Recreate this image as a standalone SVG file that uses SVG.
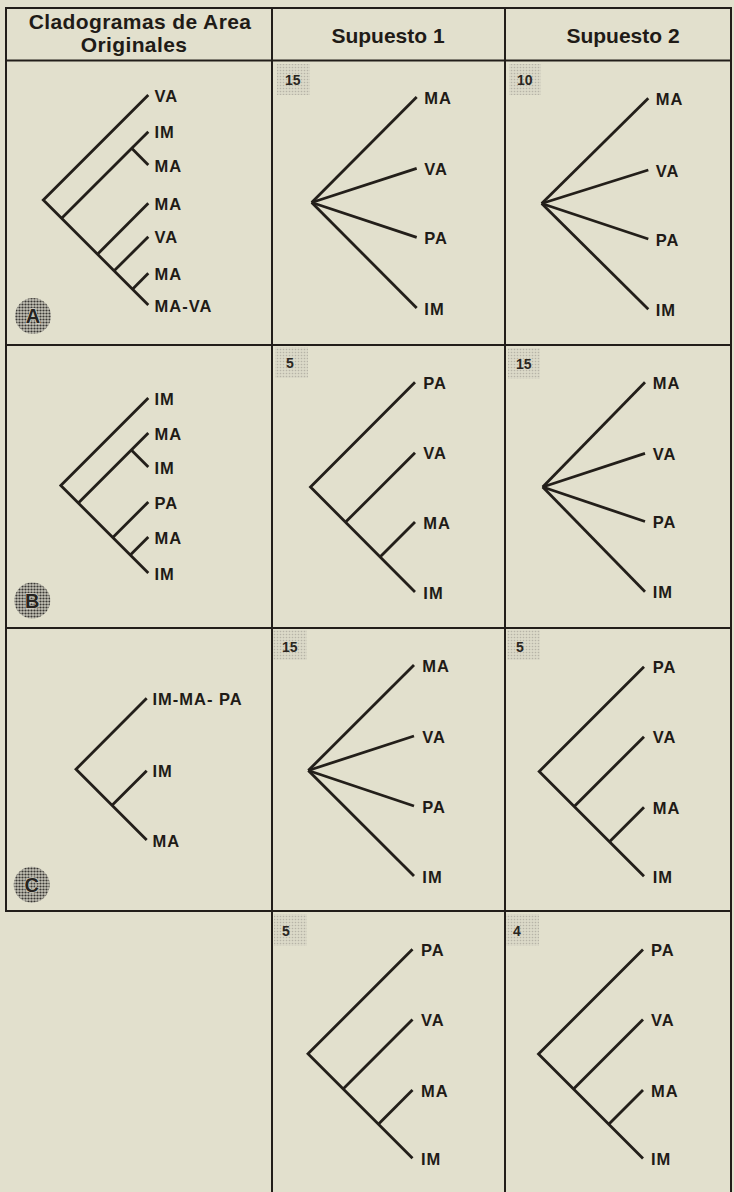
<svg xmlns="http://www.w3.org/2000/svg" width="734" height="1192" viewBox="0 0 734 1192">
<defs>
<pattern id="dots" width="3" height="3" patternUnits="userSpaceOnUse">
<rect width="3" height="3" fill="#d8d6c6"/>
<circle cx="1.5" cy="1.5" r="0.8" fill="#a3a096"/>
</pattern>
<pattern id="dark" width="3" height="3" patternUnits="userSpaceOnUse">
<rect width="3" height="3" fill="#c4c2b6"/>
<circle cx="1.5" cy="1.5" r="1.1" fill="#3a3834"/>
</pattern>
</defs>
<style>
.grid line{stroke:#221e1a;stroke-width:2}
.br line,.br polyline{stroke:#231f1a;stroke-width:2.8;fill:none;stroke-linecap:butt;stroke-linejoin:miter}
.lab{font-family:"Liberation Sans",Arial,sans-serif;font-weight:bold;font-size:16.5px;letter-spacing:1px;fill:#1f1b17}
.hd{font-family:"Liberation Sans",Arial,sans-serif;font-weight:bold;font-size:21px;fill:#1f1b17;text-anchor:middle}
.num{font-family:"Liberation Sans",Arial,sans-serif;font-weight:bold;font-size:14px;fill:#2a2621}
.badge{fill:url(#dots);opacity:0.7}
.circ{fill:url(#dark)}
.let{font-family:"Liberation Sans",Arial,sans-serif;font-weight:bold;font-size:20px;fill:#262320;stroke:#cfcdc1;stroke-width:1.5;paint-order:stroke;text-anchor:middle}
</style>
<rect width="734" height="1192" fill="#e2e0cd"/>

<g id="grid" class="grid">
<line x1="6" y1="8" x2="731" y2="8"/>
<line x1="6" y1="60.5" x2="731" y2="60.5"/>
<line x1="6" y1="345" x2="731" y2="345"/>
<line x1="6" y1="628" x2="731" y2="628"/>
<line x1="6" y1="911" x2="731" y2="911"/>
<line x1="6" y1="7" x2="6" y2="912"/>
<line x1="272" y1="7" x2="272" y2="1192"/>
<line x1="505" y1="7" x2="505" y2="1192"/>
<line x1="731" y1="7" x2="731" y2="1192"/>
</g>

<g id="headers">
<text class="hd" x="140" y="29" letter-spacing="0.4">Cladogramas de Area</text>
<text class="hd" x="134" y="52" letter-spacing="0.4">Originales</text>
<text class="hd" x="388" y="43">Supuesto 1</text>
<text class="hd" x="623" y="43">Supuesto 2</text>
</g>

<g id="connectors" class="br">
<!-- A original -->
<polyline points="148.3,95 43.3,200 148.3,305"/>
<line x1="61.65" y1="218.35" x2="148.3" y2="131.7"/>
<line x1="131.7" y1="148.3" x2="148.3" y2="165"/>
<line x1="97.45" y1="254.15" x2="148.3" y2="203.3"/>
<line x1="114.15" y1="270.85" x2="148.3" y2="236.7"/>
<line x1="132.45" y1="289.15" x2="148.3" y2="273.3"/>
<!-- A S1 -->
<line x1="311.7" y1="202.5" x2="416.7" y2="97"/>
<line x1="311.7" y1="202.5" x2="416.7" y2="168.3"/>
<line x1="311.7" y1="202.5" x2="416.7" y2="237.3"/>
<line x1="311.7" y1="202.5" x2="416.7" y2="308"/>
<!-- A S2 -->
<line x1="541.7" y1="203.5" x2="648.3" y2="98.3"/>
<line x1="541.7" y1="203.5" x2="648.3" y2="170"/>
<line x1="541.7" y1="203.5" x2="648.3" y2="239"/>
<line x1="541.7" y1="203.5" x2="648.3" y2="309.3"/>
<!-- B original -->
<polyline points="148.3,398 60.8,485.5 148.3,573"/>
<line x1="78.3" y1="503" x2="148.3" y2="433"/>
<line x1="131.3" y1="450" x2="148.3" y2="467"/>
<line x1="112.8" y1="537.5" x2="148.3" y2="502"/>
<line x1="130.3" y1="555" x2="148.3" y2="537"/>
<!-- B S1 -->
<polyline points="415,382.3 310.5,487 415,592"/>
<line x1="345.6" y1="522.1" x2="415" y2="452.7"/>
<line x1="380.25" y1="556.75" x2="415" y2="522"/>
<!-- B S2 -->
<line x1="542.7" y1="487" x2="645" y2="382.3"/>
<line x1="542.7" y1="487" x2="645" y2="453.3"/>
<line x1="542.7" y1="487" x2="645" y2="521.5"/>
<line x1="542.7" y1="487" x2="645" y2="591.7"/>
<!-- C original -->
<polyline points="146.7,698.3 76,769.2 146.7,840"/>
<line x1="112.1" y1="805.3" x2="146.7" y2="770.7"/>
<!-- C S1 -->
<line x1="308.3" y1="770.5" x2="414" y2="665"/>
<line x1="308.3" y1="770.5" x2="414" y2="736"/>
<line x1="308.3" y1="770.5" x2="414" y2="806"/>
<line x1="308.3" y1="770.5" x2="414" y2="876"/>
<!-- C S2 -->
<polyline points="644,666.7 539.2,771.5 644,876.3"/>
<line x1="574.2" y1="806.5" x2="644" y2="736.7"/>
<line x1="609.5" y1="841.8" x2="644" y2="807.3"/>
<!-- D S1 -->
<polyline points="412.5,949.3 308,1053.8 412.5,1158.3"/>
<line x1="343.1" y1="1088.9" x2="412.5" y2="1019.5"/>
<line x1="378.35" y1="1124.15" x2="412.5" y2="1090"/>
<!-- D S2 -->
<polyline points="643,949.5 538.5,1054 643,1158.5"/>
<line x1="573.5" y1="1089" x2="643" y2="1019.5"/>
<line x1="608.75" y1="1124.25" x2="643" y2="1090"/>
</g>

<g id="cell-A-original">
<text class="lab" x="154.5" y="101.5">VA</text>
<text class="lab" x="154.5" y="138.2">IM</text>
<text class="lab" x="154.5" y="171.5">MA</text>
<text class="lab" x="154.5" y="209.8">MA</text>
<text class="lab" x="154.5" y="243.2">VA</text>
<text class="lab" x="154.5" y="279.8">MA</text>
<text class="lab" x="154.5" y="311.5">MA-VA</text>
<circle class="circ" cx="33" cy="316" r="18"/>
<text class="let" x="33" y="323">A</text>
</g>

<g id="cell-A-s1">
<rect class="badge" x="277" y="64" width="33" height="31"/>
<text class="num" x="285" y="85">15</text>
<text class="lab" x="424.3" y="103.5">MA</text>
<text class="lab" x="424.3" y="174.8">VA</text>
<text class="lab" x="424.3" y="243.8">PA</text>
<text class="lab" x="424.3" y="314.5">IM</text>
</g>

<g id="cell-A-s2">
<rect class="badge" x="509" y="64" width="32" height="31"/>
<text class="num" x="517" y="85">10</text>
<text class="lab" x="655.7" y="104.8">MA</text>
<text class="lab" x="655.7" y="176.5">VA</text>
<text class="lab" x="655.7" y="245.5">PA</text>
<text class="lab" x="655.7" y="315.8">IM</text>
</g>

<g id="cell-B-original">
<text class="lab" x="154.5" y="404.5">IM</text>
<text class="lab" x="154.5" y="439.5">MA</text>
<text class="lab" x="154.5" y="473.5">IM</text>
<text class="lab" x="154.5" y="508.5">PA</text>
<text class="lab" x="154.5" y="543.5">MA</text>
<text class="lab" x="154.5" y="579.5">IM</text>
<circle class="circ" cx="32.3" cy="600.5" r="18"/>
<text class="let" x="32.3" y="607.5">B</text>
</g>

<g id="cell-B-s1">
<rect class="badge" x="275" y="347" width="33" height="31"/>
<text class="num" x="286" y="368">5</text>
<text class="lab" x="423.3" y="388.8">PA</text>
<text class="lab" x="423.3" y="459.2">VA</text>
<text class="lab" x="423.3" y="528.5">MA</text>
<text class="lab" x="423.3" y="598.5">IM</text>
</g>

<g id="cell-B-s2">
<rect class="badge" x="508" y="348" width="32" height="31"/>
<text class="num" x="516" y="369">15</text>
<text class="lab" x="652.7" y="388.8">MA</text>
<text class="lab" x="652.7" y="459.8">VA</text>
<text class="lab" x="652.7" y="528">PA</text>
<text class="lab" x="652.7" y="598.2">IM</text>
</g>

<g id="cell-C-original">
<text class="lab" x="152.5" y="704.8">IM-MA- PA</text>
<text class="lab" x="152.5" y="777.2">IM</text>
<text class="lab" x="152.5" y="846.5">MA</text>
<circle class="circ" cx="31.7" cy="884.7" r="18"/>
<text class="let" x="31.7" y="891.7">C</text>
</g>

<g id="cell-C-s1">
<rect class="badge" x="273" y="630" width="34" height="30"/>
<text class="num" x="282" y="652">15</text>
<text class="lab" x="422.3" y="671.5">MA</text>
<text class="lab" x="422.3" y="742.5">VA</text>
<text class="lab" x="422.3" y="812.5">PA</text>
<text class="lab" x="422.3" y="882.5">IM</text>
</g>

<g id="cell-C-s2">
<rect class="badge" x="507" y="630" width="33" height="30"/>
<text class="num" x="516" y="652">5</text>
<text class="lab" x="652.7" y="673.2">PA</text>
<text class="lab" x="652.7" y="743.2">VA</text>
<text class="lab" x="652.7" y="813.8">MA</text>
<text class="lab" x="652.7" y="882.8">IM</text>
</g>

<g id="cell-D-s1">
<rect class="badge" x="274" y="914" width="33" height="32"/>
<text class="num" x="282" y="936">5</text>
<text class="lab" x="421" y="955.8">PA</text>
<text class="lab" x="421" y="1026">VA</text>
<text class="lab" x="421" y="1096.5">MA</text>
<text class="lab" x="421" y="1164.8">IM</text>
</g>

<g id="cell-D-s2">
<rect class="badge" x="506" y="914" width="33" height="32"/>
<text class="num" x="513" y="936">4</text>
<text class="lab" x="651" y="956">PA</text>
<text class="lab" x="651" y="1026">VA</text>
<text class="lab" x="651" y="1096.5">MA</text>
<text class="lab" x="651" y="1165">IM</text>
</g>
</svg>
